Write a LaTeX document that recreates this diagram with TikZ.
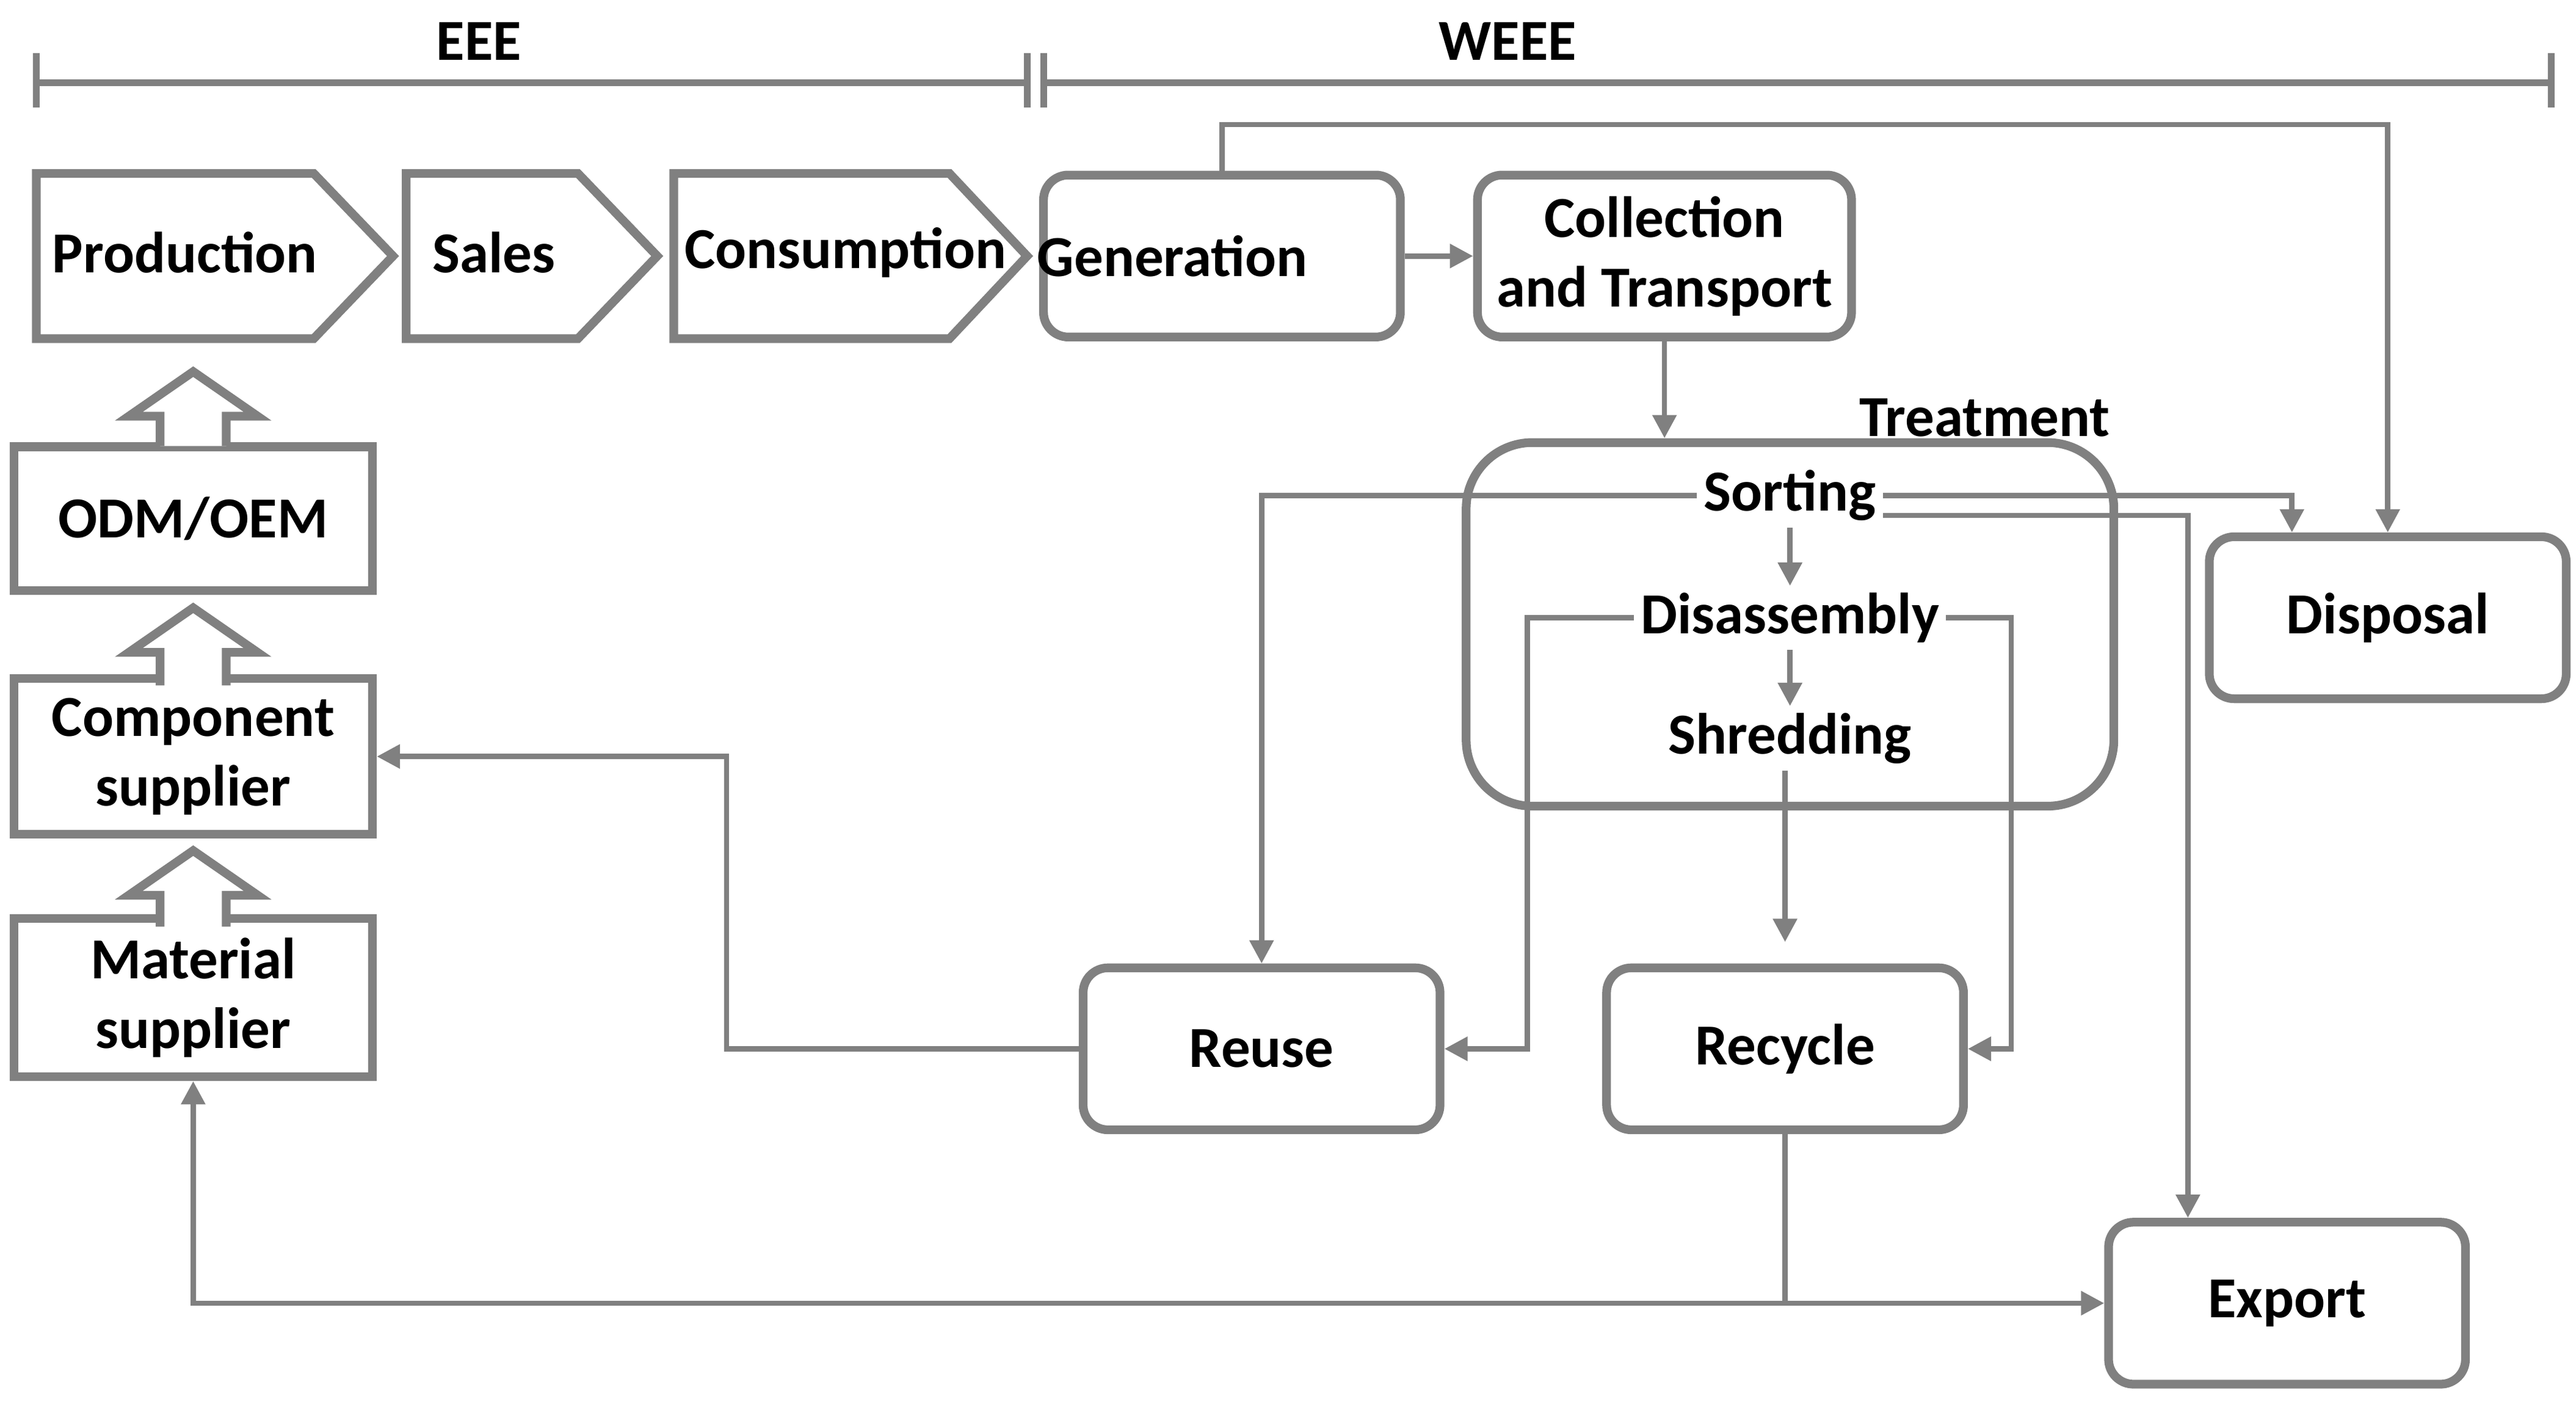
\documentclass[tikz,border=0pt]{standalone}
\usepackage{fontspec}
\setmainfont{Carlito}
\usetikzlibrary{arrows.meta,positioning}
\definecolor{lgray}{RGB}{128,128,128}
\tikzset{
  box/.style={draw=lgray,line width=1.5pt,rounded corners=0.15cm,minimum width=2.16cm,minimum height=0.98cm,align=center,font=\bfseries},
  sbox/.style={draw=lgray,line width=1.5pt,minimum width=2.17cm,minimum height=0.87cm,align=center,font=\bfseries},
  chev/.style={draw=lgray,line width=1.5pt},
  lbl/.style={font=\bfseries,inner sep=1pt},
  flow/.style={draw=lgray,line width=0.9pt,-{Triangle[length=4pt,width=4pt]}},
  line/.style={draw=lgray,line width=0.9pt}
}
\begin{document}
\begin{tikzpicture}[x=0.01cm,y=-0.01cm,font=\fontsize{8.5}{10}\selectfont]
\useasboundingbox (0,0) rectangle (1560,850);
% Phase brackets
\draw[line,line width=1.2pt] (22,50) -- (622,50) (22,32) -- (22,65) (622,32) -- (622,65);
\draw[line,line width=1.2pt] (632,50) -- (1545,50) (632,32) -- (632,65) (1545,32) -- (1545,65);
\node[lbl] (eee) at (290,25) {EEE};
\node[lbl] (weee) at (913,25) {WEEE};

% EEE chain
\draw[chev] (22,105) -- (190,105) -- (238,155) -- (190,205) -- (22,205) -- cycle;
\draw[chev] (246,105) -- (350,105) -- (398,155) -- (350,205) -- (246,205) -- cycle;
\draw[chev] (408,105) -- (575,105) -- (622,155) -- (575,205) -- (408,205) -- cycle;
\node[lbl] (prod) at (112,153) {Production};
\node[lbl] (sales) at (299,153) {Sales};
\node[lbl] (cons) at (512,153) {Consumption};

% Supply chain
\node[sbox] (odm) at (117,314) {ODM/OEM};
\node[sbox] (comp) at (117,458) {Component\\supplier};
\node[sbox] (mat) at (117,604) {Material\\supplier};
\foreach \t/\b in {225/270,368/415,515/561}
  \draw[chev,fill=white] (97,\b) -- (97,\t+27) -- (78,\t+27) -- (117,\t) -- (156,\t+27) -- (137,\t+27) -- (137,\b);

% WEEE nodes
\node[box] (gen) at (740,155) {\hspace*{-0.6cm}Generation};
\node[box] (coll) at (1008,155) {Collection\\and Transport};
\node[box,minimum width=3.92cm,minimum height=2.2cm,rounded corners=0.4cm] (tre) at (1084,378) {};
\node[lbl] (trel) at (1202,253) {Treatment};
\node[lbl] (sort) at (1084,300) {Sorting};
\node[lbl] (dis) at (1084,374) {Disassembly};
\node[lbl] (shr) at (1084,447) {Shredding};
\node[box] (disp) at (1446,374) {Disposal};
\node[box] (reuse) at (764,635) {Reuse};
\node[box] (rec) at (1081,635) {Recycle};
\node[box] (exp) at (1385,789) {Export};

% Flows
\draw[flow] (gen) -- (coll);
\draw[flow] (gen.north) -- ++(0,-28) -| (disp.north);
\draw[flow] (coll.south) -- (tre.north -| coll.south);
\draw[flow] (sort.west) -| (reuse.north);
\draw[flow] (sort.east) -| ([xshift=-0.58cm]disp.north);
\draw[flow] ([yshift=-0.12cm]sort.east) -| ([xshift=-0.6cm]exp.north);
\draw[flow] (sort) -- (dis);
\draw[flow] (dis) -- (shr);
\draw[flow] (dis.west) -- (925,374) |- (reuse.east);
\draw[flow] (dis.east) -- (1218,374) |- (rec.east);
\draw[flow] (shr.south -| rec.north) -- ([yshift=0.13cm]rec.north);
\draw[flow] (reuse.west) -- (440,635) |- (comp.east);
\draw[flow] (rec.south) |- (exp.west);
\draw[flow] (rec.south |- exp.west) -| (mat.south);
\end{tikzpicture}
\end{document}
